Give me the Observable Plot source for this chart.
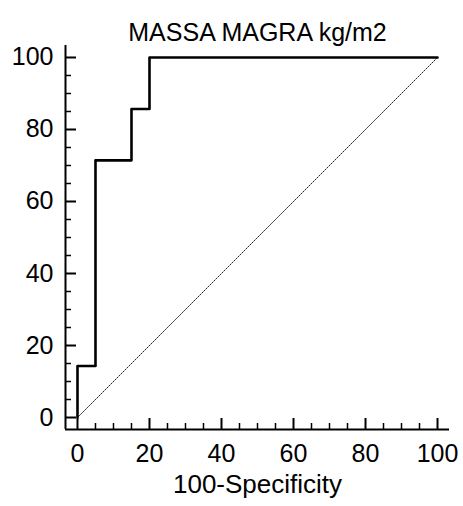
<!DOCTYPE html>
<html><head><meta charset="utf-8">
<script src="https://cdn.jsdelivr.net/npm/d3@7"></script>
<script src="https://cdn.jsdelivr.net/npm/@observablehq/plot@0.6"></script>
<style>body{margin:0;background:#fff;}</style>
</head><body><div id="chart"></div>
<script>
const title = "MASSA MAGRA kg/m2";
const xLabel = "100-Specificity";
const fpr = [0, 0, 5, 5, 15, 15, 20, 20, 100];
const tpr = [0, 14.29, 14.29, 71.43, 71.43, 85.71, 85.71, 100, 100];
const diagX = [0, 100];
const diagY = [0, 100];
const majorTicks = [0, 20, 40, 60, 80, 100];
const minorTicks = [5, 10, 15, 25, 30, 35, 45, 50, 55, 65, 70, 75, 85, 90, 95];

const lo = -3.33, hi = 103.33;
const ppu = 360 / 100;
const majLen = 11 / ppu, minLen = 6 / ppu;
const roc = fpr.map((x, i) => ({x, y: tpr[i]}));
const diag = diagX.map((x, i) => ({x, y: diagY[i]}));

const chart = Plot.plot({
  width: 463, height: 506,
  marginLeft: 65, marginRight: 14, marginTop: 45, marginBottom: 77,
  x: {domain: [lo, hi], axis: null},
  y: {domain: [lo, hi], axis: null},
  style: {fontFamily: "'Liberation Sans', Arial, sans-serif", background: "#fff", color: "#000"},
  marks: [
    Plot.line(diag, {x: "x", y: "y", stroke: "#222", strokeWidth: 1, strokeDasharray: "1.4,1.4"}),
    Plot.line(roc, {x: "x", y: "y", stroke: "#000", strokeWidth: 2.6}),
    Plot.ruleY([lo], {x1: lo, x2: hi, stroke: "#000", strokeWidth: 2}),
    Plot.ruleX([lo], {y1: lo, y2: hi, stroke: "#000", strokeWidth: 2}),
    Plot.ruleX(majorTicks, {x: d => d, y1: lo, y2: lo + majLen, stroke: "#000", strokeWidth: 2}),
    Plot.ruleX(minorTicks, {x: d => d, y1: lo, y2: lo + minLen, stroke: "#000", strokeWidth: 1.5}),
    Plot.ruleY(majorTicks, {y: d => d, x1: lo, x2: lo + majLen, stroke: "#000", strokeWidth: 2}),
    Plot.ruleY(minorTicks, {y: d => d, x1: lo, x2: lo + minLen, stroke: "#000", strokeWidth: 1.5}),
    Plot.text(majorTicks, {x: d => d, y: lo, dy: 24, text: d => String(d), fontSize: 25, fill: "#000"}),
    Plot.text(majorTicks, {x: lo, y: d => d, dx: -12, textAnchor: "end", text: d => String(d), fontSize: 25, fill: "#000"}),
    Plot.text([xLabel], {frameAnchor: "bottom", dy: 63, text: d => d, fontSize: 26, fill: "#000"}),
    Plot.text([title], {frameAnchor: "top", dy: -22, text: d => d, fontSize: 25, fill: "#000"})
  ]
});
document.getElementById("chart").appendChild(chart);
</script>
</body></html>
